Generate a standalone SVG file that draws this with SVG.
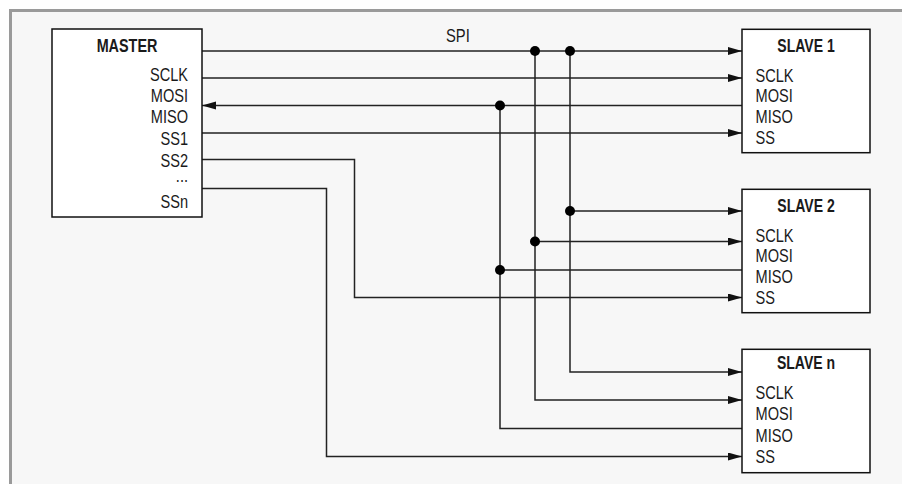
<svg xmlns="http://www.w3.org/2000/svg" width="902" height="484" viewBox="0 0 902 484">
<defs>
<style>
text{font-family:"Liberation Sans",Arial,sans-serif;font-size:18px;fill:#1a1a1a}
.t{font-weight:bold;text-anchor:middle}
.r{text-anchor:end}
.box{fill:#fff;stroke:#111;stroke-width:1.5}
.w{fill:none;stroke:#222;stroke-width:1.5}
.a{marker-end:url(#arr)}
.dot{fill:#000}
</style>
<marker id="arr" markerUnits="userSpaceOnUse" markerWidth="15" markerHeight="9" refX="14" refY="4" orient="auto">
<path d="M0,0 L14,4 L0,8 Z" fill="#111"/>
</marker>
</defs>
<rect x="0" y="0" width="902" height="484" fill="#fff"/>
<rect x="10.5" y="10.5" width="900" height="480" fill="#f7f7f7" stroke="#9a9a9a" stroke-width="3"/>

<g id="connectors">
<path class="w a" d="M202,51 H742"/>
<path class="w a" d="M202,78 H742"/>
<path class="w a" d="M742,105.5 H202"/>
<path class="w a" d="M202,133 H742"/>
<path class="w a" d="M202,159.5 H354.5 V297.5 H742"/>
<path class="w a" d="M202,188.5 H326.5 V456.5 H742"/>
<path class="w a" d="M570,51 V372 H742"/>
<path class="w a" d="M570,211 H742"/>
<path class="w a" d="M535,51 V400 H742"/>
<path class="w a" d="M535,241.5 H742"/>
<path class="w" d="M500,105.5 V428.5 H742"/>
<path class="w" d="M500,270 H742"/>
<circle class="dot" cx="535" cy="51" r="5"/>
<circle class="dot" cx="570" cy="51" r="5"/>
<circle class="dot" cx="500" cy="105.5" r="5"/>
<circle class="dot" cx="570" cy="211" r="5"/>
<circle class="dot" cx="535" cy="241.5" r="5"/>
<circle class="dot" cx="500" cy="270" r="5"/>
<text transform="translate(446,41.7) scale(0.82,1)">SPI</text>
</g>

<g id="master">
<rect class="box" x="52" y="29" width="150" height="188"/>
<text class="t" transform="translate(127,52) scale(0.8,1)">MASTER</text>
<text class="r" transform="translate(188,81) scale(0.81,1)">SCLK</text>
<text class="r" transform="translate(188,102.3) scale(0.81,1)">MOSI</text>
<text class="r" transform="translate(188,123.3) scale(0.81,1)">MISO</text>
<text class="r" transform="translate(188,145.3) scale(0.81,1)">SS1</text>
<text class="r" transform="translate(188,166.7) scale(0.81,1)">SS2</text>
<text class="r" transform="translate(188,182) scale(0.81,1)">...</text>
<text class="r" transform="translate(188,208.3) scale(0.81,1)">SSn</text>
</g>

<g id="slave1">
<rect class="box" x="742" y="29.3" width="128" height="123.4"/>
<text class="t" transform="translate(806,52) scale(0.78,1)">SLAVE 1</text>
<text transform="translate(755.5,81.7) scale(0.81,1)">SCLK</text>
<text transform="translate(755.5,102.3) scale(0.81,1)">MOSI</text>
<text transform="translate(755.5,123.3) scale(0.81,1)">MISO</text>
<text transform="translate(755.5,144.3) scale(0.81,1)">SS</text>
</g>

<g id="slave2">
<rect class="box" x="742" y="189.3" width="128" height="123.4"/>
<text class="t" transform="translate(806,212.3) scale(0.78,1)">SLAVE 2</text>
<text transform="translate(755.5,241.7) scale(0.81,1)">SCLK</text>
<text transform="translate(755.5,262.3) scale(0.81,1)">MOSI</text>
<text transform="translate(755.5,283.3) scale(0.81,1)">MISO</text>
<text transform="translate(755.5,304.3) scale(0.81,1)">SS</text>
</g>

<g id="slaven">
<rect class="box" x="742" y="349.3" width="128" height="123.4"/>
<text class="t" transform="translate(806,369.3) scale(0.78,1)">SLAVE n</text>
<text transform="translate(755.5,399.3) scale(0.81,1)">SCLK</text>
<text transform="translate(755.5,420) scale(0.81,1)">MOSI</text>
<text transform="translate(755.5,441.7) scale(0.81,1)">MISO</text>
<text transform="translate(755.5,462.7) scale(0.81,1)">SS</text>
</g>
</svg>
